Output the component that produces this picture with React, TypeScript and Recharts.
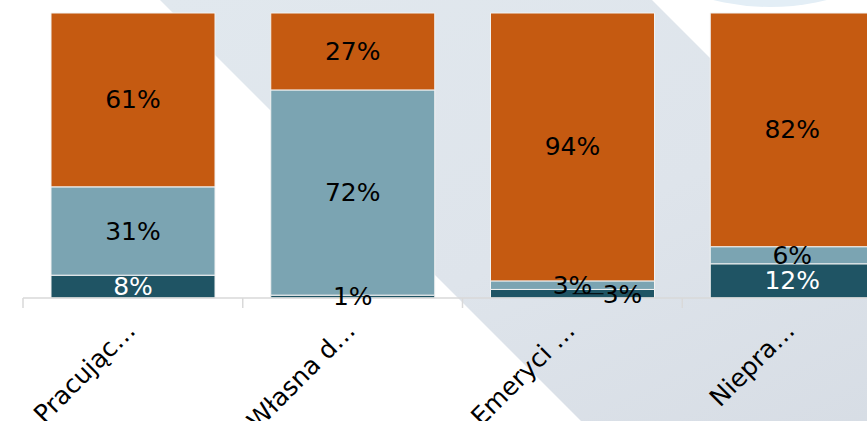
import React from "react";
import { BarChart, Bar, XAxis, YAxis, LabelList } from "recharts";

const categories = ["Pracując…", "Własna d…", "Emeryci …", "Niepra…"];
const darkValues = [8, 1, 3, 12];
const lightValues = [31, 72, 3, 6];
const orangeValues = [61, 27, 94, 82];

const data = categories.map((name, i) => ({
  name,
  dark: darkValues[i],
  light: lightValues[i],
  orange: orangeValues[i],
}));

const W = 910;
const H = 421;
const margin = { top: 13, right: 8, left: 23, bottom: 0 };
const band = (W - margin.left - margin.right) / categories.length;
const FONT = "DejaVu Sans, sans-serif";

const AxisTick = (props: any) => {
  const { x, y, payload } = props;
  return (
    <g>
      <line x1={x - band / 2} y1={y} x2={x - band / 2} y2={y + 10} stroke="#d9d9d9" strokeWidth={1.5} />
      <text
        x={x + 4}
        y={y + 34}
        transform={`rotate(-45 ${x + 4} ${y + 34})`}
        textAnchor="end"
        fontSize={25}
        fontFamily={FONT}
        fill="#000"
      >
        {payload.value}
      </text>
    </g>
  );
};

const makeLabel = (series: "dark" | "light" | "orange") => (props: any) => {
  const { x, y, width, height, value, index } = props;
  const cx = Number(x) + Number(width) / 2;
  const cy = Number(y) + Number(height) / 2;
  const fill = series === "dark" && value >= 5 ? "#ffffff" : "#000000";
  // tiny stacked neighbours: push the dark label out with a leader line
  if (series === "dark" && value < 5 && lightValues[index] < 5) {
    return (
      <g>
        <line x1={cx} y1={cy} x2={cx + 31} y2={cy} stroke="#000" strokeWidth={1} />
        <text x={cx + 50} y={cy + 1} textAnchor="middle" dominantBaseline="central" fontSize={25} fontFamily={FONT} fill="#000">
          {`${value}%`}
        </text>
      </g>
    );
  }
  return (
    <text x={cx} y={cy} textAnchor="middle" dominantBaseline="central" fontSize={25} fontFamily={FONT} fill={fill}>
      {`${value}%`}
    </text>
  );
};

export default function App() {
  return (
    <div style={{ position: "absolute", left: 0, top: 0, width: 867, height: 421, overflow: "hidden", background: "#fff" }}>
      <svg width={867} height={421} style={{ position: "absolute", left: 0, top: 0 }}>
        <defs>
          <linearGradient id="bandGrad" x1="0" y1="0" x2="1" y2="1">
            <stop offset="0%" stopColor="#e1e8ee" />
            <stop offset="50%" stopColor="#dee4eb" />
            <stop offset="100%" stopColor="#d5dbe3" />
          </linearGradient>
        </defs>
        <circle cx={770} cy={-228} r={235} fill="#e3eef6" />
        <polygon points="160,0 652,0 1073,421 581,421" fill="url(#bandGrad)" />
      </svg>
      <div style={{ position: "absolute", left: 0, top: 0 }}>
        <BarChart width={W} height={H} data={data} margin={margin} barCategoryGap={28}>
          <YAxis hide domain={[0, 100]} />
          <XAxis
            dataKey="name"
            height={123}
            interval={0}
            tickSize={0}
            tickMargin={0}
            tickLine={false}
            axisLine={{ stroke: "#d9d9d9", strokeWidth: 1.5 }}
            tick={<AxisTick />}
          />
          <Bar dataKey="dark" stackId="a" fill="#1f5464" stroke="#f2f2f2" strokeWidth={1} isAnimationActive={false}>
            <LabelList dataKey="dark" content={makeLabel("dark")} />
          </Bar>
          <Bar dataKey="light" stackId="a" fill="#7ba4b2" stroke="#f2f2f2" strokeWidth={1} isAnimationActive={false}>
            <LabelList dataKey="light" content={makeLabel("light")} />
          </Bar>
          <Bar dataKey="orange" stackId="a" fill="#c55a11" stroke="#f2f2f2" strokeWidth={1} isAnimationActive={false}>
            <LabelList dataKey="orange" content={makeLabel("orange")} />
          </Bar>
        </BarChart>
      </div>
    </div>
  );
}
